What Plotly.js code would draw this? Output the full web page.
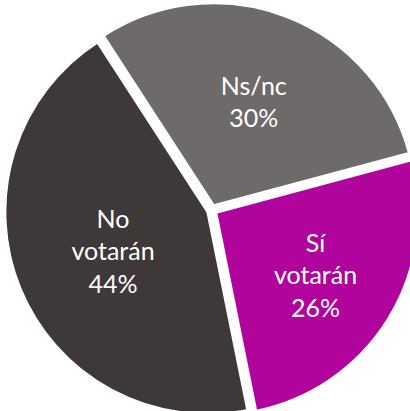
<!DOCTYPE html>
<html>
<head>
<meta charset="utf-8">
<script src="https://cdn.plot.ly/plotly-3.0.1.min.js"></script>
<style>html,body{margin:0;padding:0;background:#fff;overflow:hidden;width:410px;height:411px;}#chart{width:420px;height:420px;}</style>
</head>
<body>
<div id="chart"></div>
<script>
var labels = ["Ns/nc", "Sí<br>votarán", "No<br>votarán"];
var values = [30, 26, 44];
var colors = ["#6e6a69", "#b0049c", "#3e3839"];

var trace = {
  type: "pie",
  labels: labels,
  values: values,
  sort: false,
  direction: "clockwise",
  rotation: -33,
  pull: [0.025, 0.025, 0.025],
  marker: {colors: colors, line: {color: "#ffffff", width: 2}},
  texttemplate: "%{label}<br>%{percent:.0%}",
  textposition: "inside",
  insidetextorientation: "horizontal",
  insidetextfont: {family: "Lato, 'Open Sans', sans-serif", size: 25, color: "#ffffff"},
  hoverinfo: "none",
  showlegend: false
};

var layout = {
  width: 420,
  height: 420,
  margin: {l: 5, r: 1, t: 3, b: 3},
  paper_bgcolor: "#ffffff",
  showlegend: false
};

Plotly.newPlot("chart", [trace], layout, {displayModeBar: false, staticPlot: true});
</script>
</body>
</html>
